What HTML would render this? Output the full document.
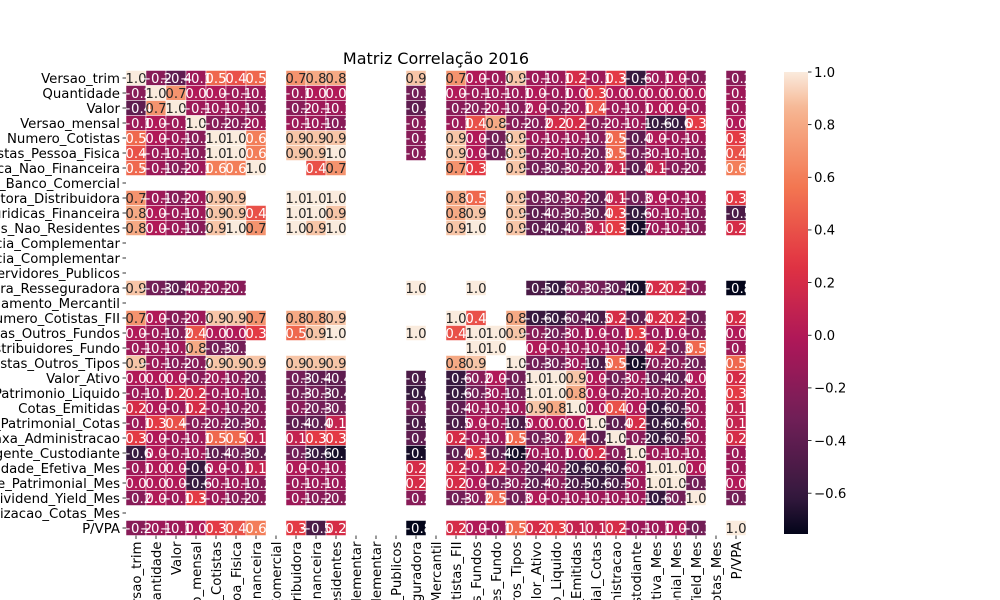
<!DOCTYPE html>
<html><head><meta charset="utf-8"><title>Matriz Correlação 2016</title>
<style>
html,body{margin:0;padding:0;background:#fff;width:1000px;height:600px;overflow:hidden;}
svg{display:block;overflow:hidden;font-family:"DejaVu Sans","Liberation Sans",sans-serif;}
</style></head>
<body>
<svg id="chart" width="1000" height="600" viewBox="0 0 1000 600" xmlns="http://www.w3.org/2000/svg">
<rect width="1000" height="600" fill="#fff"/>
<text x="436" y="64" text-anchor="middle" font-size="16">Matriz Correlação 2016</text>
<g id="cells"></g>
<g id="annots"></g>
<g id="yaxis"></g>
<g id="xaxis"></g>
<g id="cbar"></g>
</svg>
<script>
const labels = ["Versao_trim","Quantidade","Valor","Versao_mensal","Numero_Cotistas","Numero_Cotistas_Pessoa_Fisica","Numero_Cotistas_Pessoa_Juridica_Nao_Financeira","Numero_Cotistas_Banco_Comercial","Numero_Cotistas_Corretora_Distribuidora","Numero_Cotistas_Pessoas_Juridicas_Financeira","Numero_Cotistas_Investidores_Nao_Residentes","Numero_Cotistas_Entidade_Aberta_Previdencia_Complementar","Numero_Cotistas_Entidade_Fechada_Previdencia_Complementar","Numero_Cotistas_Regime_Proprio_Previdencia_Servidores_Publicos","Numero_Cotistas_Sociedade_Seguradora_Resseguradora","Numero_Cotistas_Sociedade_Capitalizacao_Arrendamento_Mercantil","Numero_Cotistas_FII","Numero_Cotistas_Outros_Fundos","Numero_Cotistas_Distribuidores_Fundo","Numero_Cotistas_Outros_Tipos","Valor_Ativo","Patrimonio_Liquido","Cotas_Emitidas","Valor_Patrimonial_Cotas","Percentual_Despesas_Taxa_Administracao","Percentual_Despesas_Agente_Custodiante","Percentual_Rentabilidade_Efetiva_Mes","Percentual_Rentabilidade_Patrimonial_Mes","Percentual_Dividend_Yield_Mes","Percentual_Amortizacao_Cotas_Mes","P/VPA"];
const N = null;
const corrRows = [
[1.0,-0.2,-0.4,-0.1,0.5,0.4,0.5,N,0.7,0.8,0.8,N,N,N,0.9,N,0.7,0.0,-0.1,0.9,-0.1,-0.1,0.2,-0.1,0.3,-0.6,-0.1,0.0,-0.2,N,-0.2],
[-0.2,1.0,0.7,0.0,0.0,-0.1,-0.1,N,-0.1,0.0,0.0,N,N,N,-0.3,N,0.0,-0.1,-0.1,-0.1,0.0,-0.1,0.0,0.3,0.0,0.0,0.0,0.0,0.0,N,-0.1],
[-0.4,0.7,1.0,-0.1,-0.1,-0.1,-0.2,N,-0.2,-0.1,-0.1,N,N,N,-0.4,N,-0.2,-0.2,-0.1,-0.2,0.0,-0.2,-0.1,0.4,-0.1,-0.1,0.0,0.0,-0.1,N,-0.1],
[-0.1,0.0,-0.1,1.0,-0.2,-0.2,-0.1,N,-0.1,-0.1,-0.2,N,N,N,-0.2,N,-0.1,0.4,0.8,-0.2,-0.2,0.2,0.2,-0.2,-0.1,-0.1,-0.6,-0.6,0.3,N,0.0],
[0.5,0.0,-0.1,-0.2,1.0,1.0,0.6,N,0.9,0.9,0.9,N,N,N,-0.2,N,0.9,0.0,-0.3,0.9,-0.1,-0.1,-0.1,-0.2,0.5,-0.4,0.0,-0.1,-0.1,N,0.3],
[0.4,-0.1,-0.1,-0.2,1.0,1.0,0.6,N,0.9,0.9,1.0,N,N,N,-0.2,N,0.9,0.0,-0.3,0.9,-0.2,-0.1,-0.2,-0.3,0.5,-0.3,-0.1,-0.1,-0.2,N,0.4],
[0.5,-0.1,-0.2,-0.1,0.6,0.6,1.0,N,N,0.4,0.7,N,N,N,N,N,0.7,0.3,N,0.9,-0.3,-0.3,-0.2,-0.2,0.1,-0.4,0.1,-0.2,-0.2,N,0.6],
[N,N,N,N,N,N,N,N,N,N,N,N,N,N,N,N,N,N,N,N,N,N,N,N,N,N,N,N,N,N,N],
[0.7,-0.1,-0.2,-0.1,0.9,0.9,N,N,1.0,1.0,1.0,N,N,N,N,N,0.8,0.5,N,0.9,-0.3,-0.3,-0.2,-0.4,0.1,-0.3,0.0,-0.1,-0.1,N,0.3],
[0.8,0.0,-0.1,-0.1,0.9,0.9,0.4,N,1.0,1.0,0.9,N,N,N,N,N,0.8,0.9,N,0.9,-0.4,-0.3,-0.3,-0.4,0.3,-0.6,-0.1,-0.1,-0.2,N,-0.5],
[0.8,0.0,-0.1,-0.2,0.9,1.0,0.7,N,1.0,0.9,1.0,N,N,N,N,N,0.9,1.0,N,0.9,-0.4,-0.4,-0.3,0.1,0.3,-0.7,-0.1,-0.1,-0.2,N,0.2],
[N,N,N,N,N,N,N,N,N,N,N,N,N,N,N,N,N,N,N,N,N,N,N,N,N,N,N,N,N,N,N],
[N,N,N,N,N,N,N,N,N,N,N,N,N,N,N,N,N,N,N,N,N,N,N,N,N,N,N,N,N,N,N],
[N,N,N,N,N,N,N,N,N,N,N,N,N,N,N,N,N,N,N,N,N,N,N,N,N,N,N,N,N,N,N],
[0.9,-0.3,-0.4,-0.2,-0.2,-0.2,N,N,N,N,N,N,N,N,1.0,N,N,1.0,N,N,-0.5,-0.6,-0.3,-0.3,-0.4,-0.7,0.2,0.2,-0.2,N,-0.8],
[N,N,N,N,N,N,N,N,N,N,N,N,N,N,N,N,N,N,N,N,N,N,N,N,N,N,N,N,N,N,N],
[0.7,0.0,-0.2,-0.1,0.9,0.9,0.7,N,0.8,0.8,0.9,N,N,N,N,N,1.0,0.4,N,0.8,-0.6,-0.6,-0.4,-0.5,0.2,-0.4,0.2,0.2,-0.3,N,0.2],
[0.0,-0.1,-0.2,0.4,0.0,0.0,0.3,N,0.5,0.9,1.0,N,N,N,1.0,N,0.4,1.0,1.0,0.9,-0.2,-0.3,-0.1,0.0,-0.1,0.3,-0.1,0.0,-0.2,N,0.0],
[-0.1,-0.1,-0.1,0.8,-0.3,-0.3,N,N,N,N,N,N,N,N,N,N,N,1.0,1.0,N,0.0,-0.1,-0.1,-0.1,-0.1,-0.4,0.2,-0.3,0.5,N,-0.1],
[0.9,-0.1,-0.2,-0.2,0.9,0.9,0.9,N,0.9,0.9,0.9,N,N,N,N,N,0.8,0.9,N,1.0,-0.3,-0.3,-0.1,-0.5,0.5,-0.7,-0.2,-0.2,-0.3,N,0.5],
[0.0,0.0,0.0,-0.2,-0.1,-0.2,-0.3,N,-0.3,-0.4,-0.4,N,N,N,-0.5,N,-0.6,-0.2,0.0,-0.3,1.0,1.0,0.9,0.0,-0.3,-0.1,-0.4,-0.4,0.0,N,0.2],
[-0.1,-0.1,0.2,0.2,-0.1,-0.1,-0.3,N,-0.3,-0.3,-0.4,N,N,N,-0.6,N,-0.6,-0.3,-0.1,-0.3,1.0,1.0,0.8,0.0,-0.2,-0.1,-0.2,-0.2,-0.1,N,0.3],
[0.2,0.0,-0.1,0.2,-0.1,-0.2,-0.2,N,-0.2,-0.3,-0.3,N,N,N,-0.3,N,-0.4,-0.1,-0.1,-0.1,0.9,0.8,1.0,0.0,0.4,0.0,-0.6,-0.5,-0.1,N,0.1],
[-0.1,0.3,0.4,-0.2,-0.2,-0.3,-0.2,N,-0.4,-0.4,0.1,N,N,N,-0.5,N,-0.5,0.0,-0.1,-0.5,0.0,0.0,0.0,1.0,-0.4,0.2,-0.6,-0.6,-0.1,N,0.1],
[0.3,0.0,-0.1,-0.1,0.5,0.5,0.1,N,0.1,0.3,0.3,N,N,N,-0.4,N,0.2,-0.1,-0.1,0.5,-0.3,-0.2,0.4,-0.4,1.0,-0.2,-0.6,-0.5,-0.1,N,0.2],
[-0.6,0.0,-0.1,-0.1,-0.4,-0.3,-0.4,N,-0.3,-0.6,-0.7,N,N,N,-0.7,N,-0.4,0.3,-0.4,-0.7,-0.1,-0.1,0.0,0.2,-0.2,1.0,-0.1,-0.1,-0.1,N,-0.1],
[-0.1,0.0,0.0,-0.6,0.0,-0.1,0.1,N,0.0,-0.1,-0.1,N,N,N,0.2,N,0.2,-0.1,0.2,-0.2,-0.4,-0.2,-0.6,-0.6,-0.6,-0.1,1.0,1.0,0.0,N,-0.1],
[0.0,0.0,0.0,-0.6,-0.1,-0.1,-0.2,N,-0.1,-0.1,-0.1,N,N,N,0.2,N,0.2,0.0,-0.3,-0.2,-0.4,-0.2,-0.5,-0.6,-0.5,-0.1,1.0,1.0,-0.3,N,0.0],
[-0.2,0.0,-0.1,0.3,-0.1,-0.2,-0.2,N,-0.1,-0.2,-0.2,N,N,N,-0.2,N,-0.3,-0.2,0.5,-0.3,0.0,-0.1,-0.1,-0.1,-0.1,-0.1,-0.6,-0.3,1.0,N,-0.3],
[N,N,N,N,N,N,N,N,N,N,N,N,N,N,N,N,N,N,N,N,N,N,N,N,N,N,N,N,N,N,N],
[-0.2,-0.1,-0.1,0.0,0.3,0.4,0.6,N,0.3,-0.5,0.2,N,N,N,-0.8,N,0.2,0.0,-0.1,0.5,0.2,0.3,0.1,0.1,0.2,-0.1,-0.1,0.0,-0.3,N,1.0]
];
const cbarTicks = [1.0,0.8,0.6,0.4,0.2,0.0,-0.2,-0.4,-0.6];
const vmin = -0.755, vmax = 1.0;

const NS = "http://www.w3.org/2000/svg";
const X0 = 126, Y0 = 70.5, CW = 20, CH = 15;
const xPos = i => X0 + i * CW;
const yPos = i => Y0 + i * CH;
const stopPos = [0, 0.083, 0.25, 0.417, 0.583, 0.75, 0.917, 1.0];
const stopCol = [[3,5,26],[53,25,62],[112,31,87],[173,23,89],[225,51,66],[243,118,81],[246,180,143],[250,235,221]];
function cmap(v){
  let t = (v - vmin)/(vmax - vmin); t = Math.max(0, Math.min(1, t));
  let i = 0; while (i < stopPos.length - 2 && t > stopPos[i+1]) i++;
  const f = (t - stopPos[i])/(stopPos[i+1] - stopPos[i]);
  const a = stopCol[i], b = stopCol[i+1];
  return a.map((c,k)=>Math.round(c + (b[k]-c)*f));
}
function lum(rgb){
  const c = rgb.map(x=>{x/=255;return x<=0.03928?x/12.92:Math.pow((x+0.055)/1.055,2.4);});
  return 0.2126*c[0]+0.7152*c[1]+0.0722*c[2];
}
function mk(tag, attrs, parent){
  const e = document.createElementNS(NS, tag);
  for (const k in attrs) e.setAttribute(k, attrs[k]);
  parent.appendChild(e); return e;
}
const cells = document.getElementById('cells');
const annots = document.getElementById('annots');
corrRows.forEach((row, r) => {
  row.forEach((v, c) => {
    if (v === null) return;
    const rgb = cmap(v);
    const rect = mk('rect', {x: xPos(c), y: yPos(r), width: CW, height: CH, fill: `rgb(${rgb.join(',')})`, stroke: '#fff', 'stroke-width': 0.5}, cells);
    
    
    const t = mk('text', {x: xPos(c) + CW/2, y: yPos(r) + CH/2 + 4.8, 'text-anchor': 'middle', 'font-size': 13.3, fill: lum(rgb) > 0.408 ? '#262626' : '#fff'}, annots);
    t.textContent = (v < 0 ? '\u2212' : '') + Math.abs(v).toFixed(1);
    
    
  });
});
const yaxis = document.getElementById('yaxis');
const xaxis = document.getElementById('xaxis');
labels.forEach((lab, i) => {
  const cy = yPos(i) + CH/2;
  const tk = mk('line', {x1: X0 - 3.5, x2: X0, y1: cy, y2: cy, stroke: '#000', 'stroke-width': 0.8}, yaxis);
  
  
  const yt = mk('text', {x: X0 - 6, y: cy + 4.8, 'text-anchor': 'end', 'font-size': 13.3, fill: '#000'}, yaxis);
  yt.textContent = lab;
  
  
  const cx = xPos(i) + CW/2;
  const yb = Y0 + labels.length*CH;
  const xt = mk('line', {x1: cx, x2: cx, y1: yb, y2: yb + 3.5, stroke: '#000', 'stroke-width': 0.8}, xaxis);
  
  
  const xl = mk('text', {transform: `translate(${cx + 4.8},${yb + 6}) rotate(-90)`, 'text-anchor': 'end', 'font-size': 13.3, fill: '#000'}, xaxis);
  xl.textContent = lab;
  
  
});
const cbar = document.getElementById('cbar');
const CBX = 784, CBW = 24, CBT = 72, CBB = 534;
const cbY = v => CBB - (v - vmin)/(vmax - vmin)*(CBB - CBT);
const defs = mk('defs', {}, cbar);
const grad = mk('linearGradient', {id: 'cg', x1: 0, y1: 1, x2: 0, y2: 0}, defs);
for (let k = 0; k <= 40; k++) {
  const v = vmin + (vmax - vmin)*k/40;
  mk('stop', {offset: k/40, 'stop-color': `rgb(${cmap(v).join(',')})`}, grad);
}
const cr = mk('rect', {x: CBX, y: CBT, width: CBW, height: CBB - CBT, fill: 'url(#cg)'}, cbar);


cbarTicks.forEach(v => {
  const y = cbY(v);
  const l = mk('line', {x1: CBX + CBW, x2: CBX + CBW + 3.5, y1: y, y2: y, stroke: '#000', 'stroke-width': 0.8}, cbar);
  
  
  const t = mk('text', {x: CBX + CBW + 6, y: y + 4.8, 'font-size': 13.3, fill: '#000'}, cbar);
  t.textContent = (v < 0 ? '\u2212' : '') + Math.abs(v).toFixed(1);
  
  
});
</script>
</body></html>
